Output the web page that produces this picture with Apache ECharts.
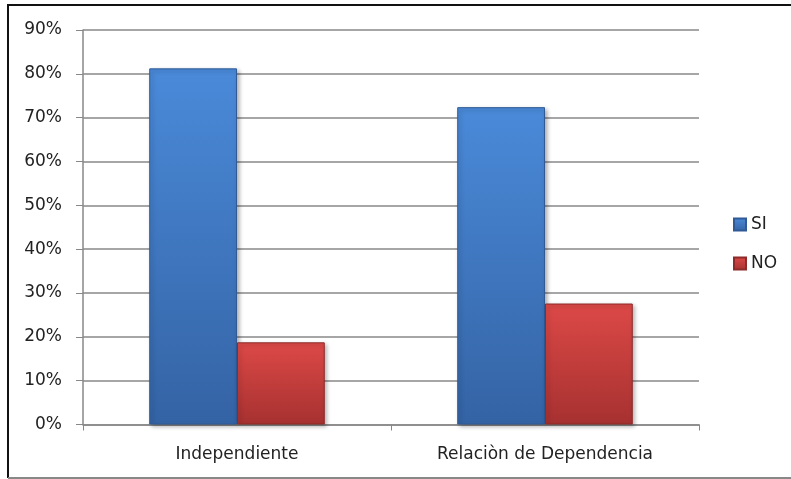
<!doctype html>
<html>
<head>
    <meta charset="utf-8">
    <title>SI / NO</title>
    <script src="https://cdn.jsdelivr.net/npm/echarts@6/dist/echarts.min.js"></script>
    <style>
        html, body { margin: 0; padding: 0; background: #fff; }
        #Chart { width: 791px; height: 479px; }
    </style>
</head>
<body>
    <div id="Chart"></div>
<script>
    var categories = ['Independiente', 'Relaciòn de Dependencia'];
    var siValues = [81.25, 72.4];
    var noValues = [18.75, 27.6];
    var yTicks = { min: 0, max: 90, step: 10 };

    function barGradient(top, bottom) {
        return new echarts.graphic.LinearGradient(0, 0, 0, 1, [
            { offset: 0, color: top },
            { offset: 1, color: bottom }
        ]);
    }

    var myChart = echarts.init(document.getElementById('Chart'));
    var font = 'DejaVu Sans';
    var option = {
        animation: false,
        backgroundColor: '#fff',
        graphic: [
            { type: 'line', shape: { x1: 8, y1: 5, x2: 791, y2: 5 }, style: { stroke: '#111', lineWidth: 2 } },
            { type: 'line', shape: { x1: 8, y1: 4, x2: 8, y2: 478 }, style: { stroke: '#111', lineWidth: 2 } },
            { type: 'line', shape: { x1: 8, y1: 478, x2: 791, y2: 478 }, style: { stroke: '#888', lineWidth: 2 } }
        ],
        grid: {
            left: 83,
            right: 92,
            top: 30,
            bottom: 54.5,
            outerBoundsMode: 'none'
        },
        legend: {
            orient: 'vertical',
            left: 733,
            top: 216,
            padding: 0,
            itemWidth: 12,
            itemHeight: 12,
            itemGap: 22,
            icon: 'rect',
            textStyle: { fontFamily: font, fontSize: 17, color: '#222' },
            data: ['SI', 'NO']
        },
        xAxis: {
            type: 'category',
            data: categories,
            axisLine: { lineStyle: { color: '#888', width: 1.5 } },
            axisTick: { show: true, length: 6, lineStyle: { color: '#888' } },
            axisLabel: { margin: 22, fontFamily: font, fontSize: 17, color: '#222' }
        },
        yAxis: {
            type: 'value',
            min: yTicks.min,
            max: yTicks.max,
            interval: yTicks.step,
            axisLine: { show: true, lineStyle: { color: '#888', width: 1.5 } },
            axisTick: { show: true, length: 7, lineStyle: { color: '#888' } },
            axisLabel: { margin: 21, fontFamily: font, fontSize: 17, color: '#222', formatter: '{value}%' },
            splitLine: { lineStyle: { color: '#888', width: 1.5 } }
        },
        series: [
            {
                name: 'SI',
                type: 'bar',
                data: siValues,
                barGap: '0%',
                barCategoryGap: '43%',
                itemStyle: {
                    color: barGradient('#4a8ad9', '#3463a4'),
                    borderColor: '#2f5a96',
                    borderWidth: 1,
                    shadowColor: 'rgba(0,0,0,0.3)',
                    shadowBlur: 4,
                    shadowOffsetX: 2,
                    shadowOffsetY: 2
                }
            },
            {
                name: 'NO',
                type: 'bar',
                data: noValues,
                itemStyle: {
                    color: barGradient('#dc4947', '#a63130'),
                    borderColor: '#8e2a29',
                    borderWidth: 1,
                    shadowColor: 'rgba(0,0,0,0.3)',
                    shadowBlur: 4,
                    shadowOffsetX: 2,
                    shadowOffsetY: 2
                }
            }
        ]
    };
    myChart.setOption(option);
</script>
</body>
</html>
